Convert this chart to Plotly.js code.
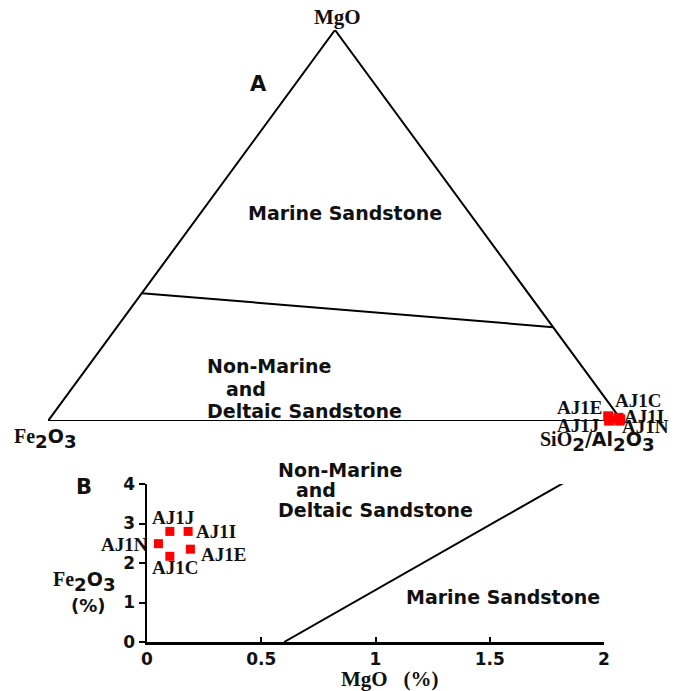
<!DOCTYPE html>
<html>
<head>
<meta charset="utf-8">
<script src="https://cdn.plot.ly/plotly-3.0.1.min.js"></script>
<style>html,body{margin:0;padding:0;background:#fff;}#chart{width:676px;height:691px;}</style>
</head>
<body>
<div id="chart"></div>
<script>
// ---- Data ----
var samples = ['AJ1C', 'AJ1E', 'AJ1I', 'AJ1J', 'AJ1N'];
// Panel A: ternary fractions (MgO, Fe2O3, SiO2/Al2O3)
var ternMgO   = [0.008, 0.012, 0.004, 0.001, 0.001];
var ternFe2O3 = [0.002, 0.018, 0.001, 0.022, 0.004];
var ternSiAl  = [0.990, 0.970, 0.995, 0.977, 0.995];
// Ternary field boundary (MgO, Fe2O3, SiO2/Al2O3) at its two ends
var boundMgO   = [0.327, 0.240];
var boundFe2O3 = [0.673, 0.000];
var boundSiAl  = [0.000, 0.760];
// Panel B: MgO (%) vs Fe2O3 (%)
var mgoPct   = [0.10, 0.19, 0.18, 0.10, 0.05];
var fe2o3Pct = [2.17, 2.35, 2.80, 2.80, 2.49];
// Panel B field boundary
var lineMgO   = [0.60, 1.83];
var lineFe2O3 = [0.00, 4.05];
var xTicks = [0, 0.5, 1, 1.5, 2];
var xTickText = ['0', '0.5', '1', '1.5', '2'];
var yTicks = [0, 1, 2, 3, 4];
var yTickText = ['0', '1', '2', '3', '4'];

// ternary -> cartesian (left vertex Fe2O3, right SiO2/Al2O3, top MgO)
function tx(a, b, c) { return c + 0.5 * a; }
function ty(a, b, c) { return a; }
function mapT(A, B, C, f) { return A.map(function (a, i) { return f(a, B[i], C[i]); }); }

var W = 676, H = 691;
function P(xp, yp) { return {x: xp / W, y: 1 - yp / H}; }

var SERIF = 'Liberation Serif, Times New Roman, serif';
var SANS = 'DejaVu Sans, Arial, sans-serif';

var traces = [];
var triA = [1, 0, 0, 1], triB = [0, 1, 0, 0], triC = [0, 0, 1, 0];
traces.push({
  x: mapT(triA, triB, triC, tx), y: mapT(triA, triB, triC, ty),
  xaxis: 'x', yaxis: 'y', mode: 'lines', cliponaxis: false,
  line: {color: '#000', width: 2}, hoverinfo: 'skip'
});
traces.push({
  x: mapT(boundMgO, boundFe2O3, boundSiAl, tx), y: mapT(boundMgO, boundFe2O3, boundSiAl, ty),
  xaxis: 'x', yaxis: 'y', mode: 'lines', cliponaxis: false,
  line: {color: '#000', width: 2}, hoverinfo: 'skip'
});
traces.push({
  x: mapT(ternMgO, ternFe2O3, ternSiAl, tx), y: mapT(ternMgO, ternFe2O3, ternSiAl, ty),
  text: samples, xaxis: 'x', yaxis: 'y', mode: 'markers', cliponaxis: false,
  marker: {symbol: 'square', size: 10, color: '#ff0000'}
});
traces.push({
  x: lineMgO, y: lineFe2O3, xaxis: 'x2', yaxis: 'y2', mode: 'lines', cliponaxis: false,
  line: {color: '#000', width: 2}, hoverinfo: 'skip'
});
traces.push({
  x: mgoPct, y: fe2o3Pct, text: samples, xaxis: 'x2', yaxis: 'y2', mode: 'markers', cliponaxis: false,
  marker: {symbol: 'square', size: 9, color: '#ff0000'}
});

var annotations = [];
function addPaper(xp, yp, text, font, opts) {
  var p = P(xp, yp);
  var a = {xref: 'paper', yref: 'paper', x: p.x, y: p.y, text: text, showarrow: false,
           font: font, xanchor: 'center', yanchor: 'middle', align: 'left', borderpad: 0, borderwidth: 0};
  for (var k in (opts || {})) a[k] = opts[k];
  annotations.push(a);
}
var regionFont = {family: SANS, size: 19, color: '#111', weight: 'bold'};
var panelFont = {family: SANS, size: 21, color: '#111', weight: 'bold'};
var serifFont = {family: SERIF, size: 19, color: '#111', weight: 'bold'};
// chemical formula: big sans subscripts (annotation base size 26 -> sub 70% = 18px)
var chemFont = {family: SANS, size: 26, color: '#111', weight: 'bold'};
function serifSpan(t, s) { return '<span style="font-family:Liberation Serif;font-size:' + s + 'px">' + t + '</span>'; }
function sansSpan(t, s) { return '<span style="font-size:' + s + 'px">' + t + '</span>'; }

// Panel A text
addPaper(258, 84, 'A', panelFont);
addPaper(337, 17, 'MgO', {family: SERIF, size: 21, color: '#111', weight: 'bold'});
addPaper(45, 438, serifSpan('Fe', 20) + '<sub>2</sub>' + sansSpan('O', 19) + '<sub>3</sub>', chemFont);
addPaper(597, 442, serifSpan('SiO', 20) + '<sub>2</sub>' + sansSpan('/Al', 19) + '<sub>2</sub>' + sansSpan('O', 19) + '<sub>3</sub>', chemFont);
addPaper(345, 213, 'Marine Sandstone', regionFont);
addPaper(207, 366, 'Non-Marine', regionFont, {xanchor: 'left'});
addPaper(226, 389, 'and', regionFont, {xanchor: 'left'});
addPaper(207, 411, 'Deltaic Sandstone', regionFont, {xanchor: 'left'});

// Panel B text
addPaper(84, 487, 'B', panelFont);
addPaper(278, 470, 'Non-Marine', regionFont, {xanchor: 'left'});
addPaper(296, 490, 'and', regionFont, {xanchor: 'left'});
addPaper(278, 510, 'Deltaic Sandstone', regionFont, {xanchor: 'left'});
addPaper(503, 597, 'Marine Sandstone', regionFont);
addPaper(84, 581, serifSpan('Fe', 20) + '<sub>2</sub>' + sansSpan('O', 19) + '<sub>3</sub>', chemFont);
addPaper(88, 605, '(%)', {family: SANS, size: 18, color: '#111', weight: 'bold'});
addPaper(390, 679, 'MgO&nbsp;&nbsp;&nbsp;(%)', {family: SERIF, size: 21, color: '#111', weight: 'bold'});

// Point labels (anchored on data points)
var ternLabel = {
  'AJ1C': {xanchor: 'left', xshift: -4, yshift: 17},
  'AJ1E': {xanchor: 'right', xshift: -6, yshift: 9},
  'AJ1I': {xanchor: 'left', xshift: 4, yshift: 3},
  'AJ1J': {xanchor: 'center', xshift: -31, yshift: -5},
  'AJ1N': {xanchor: 'left', xshift: 3, yshift: -6}
};
var bLabel = {
  'AJ1C': {xanchor: 'center', xshift: 5, yshift: -11},
  'AJ1E': {xanchor: 'left', xshift: 11, yshift: -5},
  'AJ1I': {xanchor: 'left', xshift: 8, yshift: 0},
  'AJ1J': {xanchor: 'center', xshift: 3, yshift: 14},
  'AJ1N': {xanchor: 'right', xshift: -10, yshift: -1}
};
var tX = mapT(ternMgO, ternFe2O3, ternSiAl, tx), tY = mapT(ternMgO, ternFe2O3, ternSiAl, ty);
samples.forEach(function (s, i) {
  var o = ternLabel[s];
  annotations.push({xref: 'x', yref: 'y', x: tX[i], y: tY[i], text: s, showarrow: false, borderpad: 0, borderwidth: 0,
    xanchor: o.xanchor, yanchor: 'middle', xshift: o.xshift, yshift: o.yshift, font: serifFont});
  var q = bLabel[s];
  annotations.push({xref: 'x2', yref: 'y2', x: mgoPct[i], y: fe2o3Pct[i], text: s, showarrow: false, borderpad: 0, borderwidth: 0,
    xanchor: q.xanchor, yanchor: 'middle', xshift: q.xshift, yshift: q.yshift, font: serifFont});
});

var tickFont = {family: SANS, size: 17, color: '#111', weight: 'bold'};
var layout = {
  width: W, height: H,
  margin: {l: 0, r: 0, t: 0, b: 0},
  paper_bgcolor: '#fff', plot_bgcolor: 'rgba(0,0,0,0)',
  showlegend: false,
  xaxis: {domain: [48 / W, 622 / W], range: [0, 1], visible: false, fixedrange: true, anchor: 'y'},
  yaxis: {domain: [(H - 421) / H, (H - 30) / H], range: [0, 1], visible: false, fixedrange: true, anchor: 'x'},
  xaxis2: {domain: [147 / W, 604 / W], range: [0, 2], anchor: 'y2', showline: true, linecolor: '#000', linewidth: 2.5,
    ticks: 'inside', ticklen: 5, tickwidth: 2, tickcolor: '#000', tickvals: xTicks, ticktext: xTickText,
    tickfont: tickFont, showgrid: false, zeroline: false, fixedrange: true},
  yaxis2: {domain: [(H - 642) / H, (H - 484) / H], range: [0, 4], anchor: 'x2', showline: true, linecolor: '#000', linewidth: 2.5,
    ticks: 'outside', ticklen: 6, tickwidth: 2, tickcolor: '#000', tickvals: yTicks, ticktext: yTickText,
    tickfont: tickFont, showgrid: false, zeroline: false, fixedrange: true},
  annotations: annotations
};
Plotly.newPlot('chart', traces, layout, {staticPlot: true, displayModeBar: false});
</script>
</body>
</html>
